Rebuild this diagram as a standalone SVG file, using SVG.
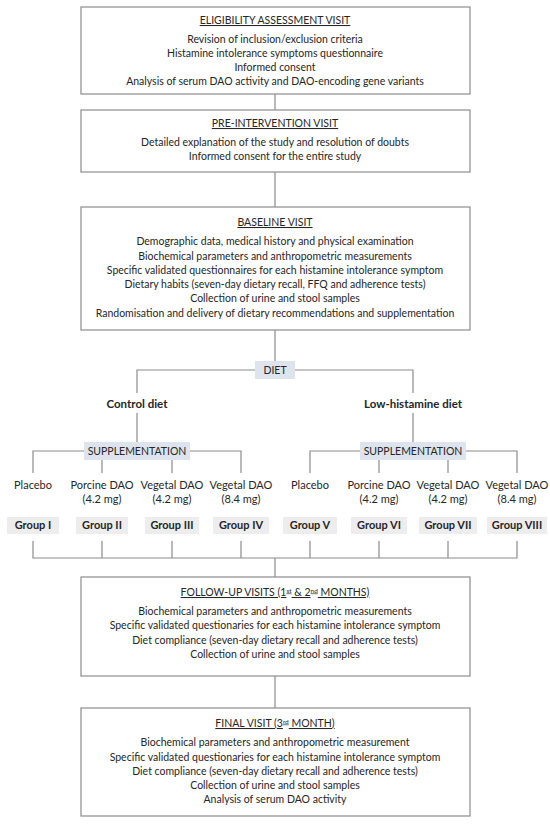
<svg xmlns="http://www.w3.org/2000/svg" width="550" height="824" viewBox="0 0 550 824">
<style>
.box{fill:#ffffff;stroke:#8c8c8c;stroke-width:1.2}
.tag{fill:#dde4ee;stroke:none}
.grp{fill:#ededed;stroke:none}
.ln{fill:none;stroke:#8c8c8c;stroke-width:1.2}
text{font-family:Lato,"Liberation Sans",sans-serif;font-size:10.5px;fill:#262626;text-anchor:middle}
.ttl{text-decoration:underline}
.b{font-weight:bold}
.m{font-size:11px}
.l{font-size:11.5px}
.sup{font-size:6.5px}
</style>
<rect width="550" height="824" fill="#ffffff"/>
<g id="connectors">
<path class="ln" d="M275 94V110M275 172V207M275 330V362"/>
<path class="ln" d="M137 393V370H413V393M137 413V443M413 413V443"/>
<path class="ln" d="M33 473V451H241V473M102 460V473M172 460V473"/>
<path class="ln" d="M310 473V451H517V473M379 460V473M448 460V473"/>
<path class="ln" d="M33 541V558H517V541M102 541V558M172 541V558M241 541V558M310 541V558M379 541V558M448 541V558M275 558V577"/>
<path class="ln" d="M275 676V708"/>
</g>
<g id="eligibility">
<rect class="box" x="81" y="7" width="389" height="87"/>
<text class="ttl" x="275" y="24">ELIGIBILITY ASSESSMENT VISIT</text>
<text x="275" y="43">Revision of inclusion/exclusion criteria</text>
<text x="275" y="57">Histamine intolerance symptoms questionnaire</text>
<text x="275" y="71">Informed consent</text>
<text x="275" y="85">Analysis of serum DAO activity and DAO-encoding gene variants</text>
</g>
<g id="pre-intervention">
<rect class="box" x="81" y="110" width="389" height="62"/>
<text class="ttl" x="275" y="127">PRE-INTERVENTION VISIT</text>
<text x="275" y="146">Detailed explanation of the study and resolution of doubts</text>
<text x="275" y="160">Informed consent for the entire study</text>
</g>
<g id="baseline">
<rect class="box" x="81" y="207" width="389" height="123"/>
<text class="ttl" x="275" y="226">BASELINE VISIT</text>
<text x="275" y="245">Demographic data, medical history and physical examination</text>
<text x="275" y="260">Biochemical parameters and anthropometric measurements</text>
<text x="275" y="274">Specific validated questionnaires for each histamine intolerance symptom</text>
<text x="275" y="288">Dietary habits (seven-day dietary recall, FFQ and adherence tests)</text>
<text x="275" y="302">Collection of urine and stool samples</text>
<text x="275" y="317">Randomisation and delivery of dietary recommendations and supplementation</text>
</g>
<g id="diet">
<rect class="tag" x="255" y="361" width="40" height="18"/>
<text x="275" y="374">DIET</text>
</g>
<g id="control-diet">
<text class="b l" x="137" y="408">Control diet</text>
</g>
<g id="low-histamine-diet">
<text class="b l" x="413" y="408">Low-histamine diet</text>
</g>
<g id="supplementation-left">
<rect class="tag" x="84" y="442" width="106" height="18"/>
<text x="137" y="455">SUPPLEMENTATION</text>
</g>
<g id="supplementation-right">
<rect class="tag" x="360" y="442" width="106" height="18"/>
<text x="413" y="455">SUPPLEMENTATION</text>
</g>
<g id="arm-1"><text class="m" x="33" y="489">Placebo</text></g>
<g id="arm-2"><text class="m" x="102" y="489">Porcine DAO</text><text class="m" x="102" y="503">(4.2 mg)</text></g>
<g id="arm-3"><text class="m" x="172" y="489">Vegetal DAO</text><text class="m" x="172" y="503">(4.2 mg)</text></g>
<g id="arm-4"><text class="m" x="241" y="489">Vegetal DAO</text><text class="m" x="241" y="503">(8.4 mg)</text></g>
<g id="arm-5"><text class="m" x="310" y="489">Placebo</text></g>
<g id="arm-6"><text class="m" x="379" y="489">Porcine DAO</text><text class="m" x="379" y="503">(4.2 mg)</text></g>
<g id="arm-7"><text class="m" x="448" y="489">Vegetal DAO</text><text class="m" x="448" y="503">(4.2 mg)</text></g>
<g id="arm-8"><text class="m" x="517" y="489">Vegetal DAO</text><text class="m" x="517" y="503">(8.4 mg)</text></g>
<g id="group-1"><rect class="grp" x="7" y="517" width="52" height="17"/><text class="b m" x="33" y="529">Group I</text></g>
<g id="group-2"><rect class="grp" x="76" y="517" width="52" height="17"/><text class="b m" x="102" y="529">Group II</text></g>
<g id="group-3"><rect class="grp" x="145" y="517" width="54" height="17"/><text class="b m" x="172" y="529">Group III</text></g>
<g id="group-4"><rect class="grp" x="213" y="517" width="56" height="17"/><text class="b m" x="241" y="529">Group IV</text></g>
<g id="group-5"><rect class="grp" x="283" y="517" width="54" height="17"/><text class="b m" x="310" y="529">Group V</text></g>
<g id="group-6"><rect class="grp" x="351" y="517" width="56" height="17"/><text class="b m" x="379" y="529">Group VI</text></g>
<g id="group-7"><rect class="grp" x="419" y="517" width="58" height="17"/><text class="b m" x="448" y="529">Group VII</text></g>
<g id="group-8"><rect class="grp" x="487" y="517" width="60" height="17"/><text class="b m" x="517" y="529">Group VIII</text></g>
<g id="follow-up">
<rect class="box" x="81" y="577" width="389" height="99"/>
<text class="ttl" x="275" y="596">FOLLOW-UP VISITS (1<tspan class="sup" dy="-3.5">st</tspan><tspan dy="3.5"> &amp; 2</tspan><tspan class="sup" dy="-3.5">nd</tspan><tspan dy="3.5"> MONTHS)</tspan></text>
<text x="275" y="615">Biochemical parameters and anthropometric measurements</text>
<text x="275" y="629">Specific validated questionaries for each histamine intolerance symptom</text>
<text x="275" y="644">Diet compliance (seven-day dietary recall and adherence tests)</text>
<text x="275" y="658">Collection of urine and stool samples</text>
</g>
<g id="final">
<rect class="box" x="81" y="708" width="389" height="108"/>
<text class="ttl" x="275" y="727">FINAL VISIT (3<tspan class="sup" dy="-3.5">rd</tspan><tspan dy="3.5"> MONTH)</tspan></text>
<text x="275" y="746">Biochemical parameters and anthropometric measurement</text>
<text x="275" y="761">Specific validated questionaries for each histamine intolerance symptom</text>
<text x="275" y="775">Diet compliance (seven-day dietary recall and adherence tests)</text>
<text x="275" y="789">Collection of urine and stool samples</text>
<text x="275" y="803">Analysis of serum DAO activity</text>
</g>
</svg>
